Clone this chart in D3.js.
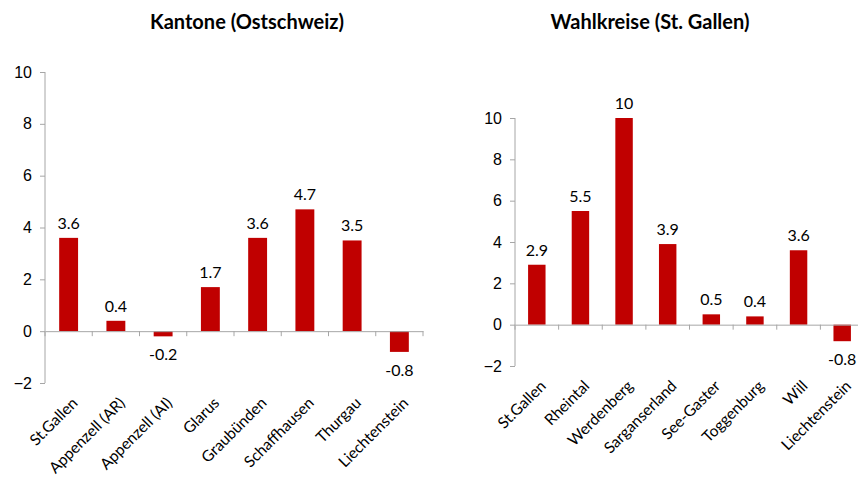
<!DOCTYPE html>
<html>
<head>
<meta charset="utf-8">
<script src="https://cdn.jsdelivr.net/npm/d3@7"></script>
<style>
  body { margin: 0; background: #fff; }
  svg { font-family: Lato, "Open Sans", sans-serif; }
</style>
</head>
<body>
<svg id="svg" width="858" height="484"></svg>
<script>
// data
const kantone = ['St.Gallen', 'Appenzell (AR)', 'Appenzell (AI)', 'Glarus', 'Graubünden', 'Schaffhausen', 'Thurgau', 'Liechtenstein'];
const kantoneValues = [3.6, 0.4, -0.2, 1.7, 3.6, 4.7, 3.5, -0.8];
const wahlkreise = ['St.Gallen', 'Rheintal', 'Werdenberg', 'Sarganserland', 'See-Gaster', 'Toggenburg', 'Will', 'Liechtenstein'];
const wahlkreiseValues = [2.9, 5.5, 10, 3.9, 0.5, 0.4, 3.6, -0.8];
const yTicks = [-2, 0, 2, 4, 6, 8, 10];

const svg = d3.select('#svg');

const drawChart = (title, titleX, cats, vals, x0, x1, yTop, yBottom) => {
  const g = svg.append('g');

  // title
  svg.append('text')
    .attr('x', titleX)
    .attr('y', 29)
    .attr('text-anchor', 'middle')
    .style('font-size', '20px')
    .style('font-weight', 'bold')
    .text(title);

  let xScale = d3.scaleBand().domain(cats).range([x0, x1]);
  let yScale = d3.scaleLinear().domain([-2, 10]).range([yBottom, yTop]);

  // y axis
  const yAxis = g.append('g')
    .attr('transform', 'translate(' + x0 + ',0)')
    .call(d3.axisLeft(yScale).tickValues(yTicks).tickSize(5).tickPadding(8).tickFormat(d3.format('d')));
  yAxis.select('.domain').attr('stroke', '#a6a6a6').attr('d', 'M0,' + yTop + 'V' + yBottom);
  yAxis.selectAll('.tick line').attr('stroke', '#a6a6a6');
  yAxis.selectAll('.tick text').style('font-size', '16px').attr('fill', '#000');

  // bars
  const bw = xScale.bandwidth() * 0.4;
  g.selectAll('rect')
    .data(vals)
    .enter()
    .append('rect')
    .style('fill', '#c00000')
    .attr('x', (d, i) => xScale(cats[i]) + (xScale.bandwidth() - bw) / 2)
    .attr('y', (d) => yScale(Math.max(0, d)))
    .attr('width', bw)
    .attr('height', (d) => Math.abs(yScale(d) - yScale(0)));

  // zero line with category ticks
  const xAxis = g.append('g')
    .attr('transform', 'translate(0,' + yScale(0) + ')')
    .call(d3.axisBottom(xScale).tickSize(0).tickFormat(''));
  xAxis.select('.domain').attr('stroke', '#a6a6a6');
  xAxis.selectAll('.tick').remove();
  g.selectAll('.cattick')
    .data(cats.concat(['end']))
    .enter()
    .append('line')
    .attr('x1', (d, i) => x0 + i * xScale.bandwidth())
    .attr('x2', (d, i) => x0 + i * xScale.bandwidth())
    .attr('y1', yScale(0))
    .attr('y2', yScale(0) + 5)
    .attr('stroke', '#a6a6a6');

  // value labels
  g.selectAll('.val')
    .data(vals)
    .enter()
    .append('text')
    .attr('x', (d, i) => xScale(cats[i]) + xScale.bandwidth() / 2)
    .attr('y', (d) => d >= 0 ? yScale(d) - 9 : yScale(d) + 24)
    .attr('text-anchor', 'middle')
    .style('font-size', '16px')
    .text((d) => d);

  // category labels
  g.selectAll('.cat')
    .data(cats)
    .enter()
    .append('text')
    .attr('text-anchor', 'end')
    .attr('transform', (d) => 'translate(' + (xScale(d) + xScale.bandwidth() / 2 + 10) + ',' + (yBottom + 21) + ') rotate(-45)')
    .style('font-size', '15.5px')
    .text((d) => d);
};

drawChart('Kantone (Ostschweiz)', 247, kantone, kantoneValues, 45, 423, 72, 383);
drawChart('Wahlkreise (St. Gallen)', 650, wahlkreise, wahlkreiseValues, 515, 864, 118, 366);
</script>
</body>
</html>
